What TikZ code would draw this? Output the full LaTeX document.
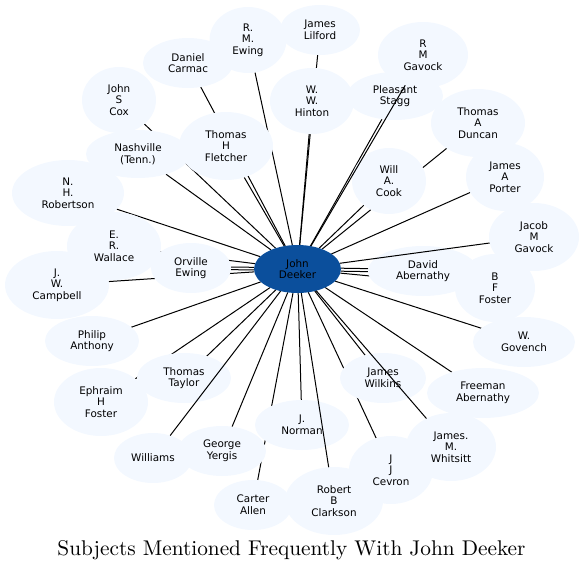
\documentclass[tikz,border=0pt]{standalone}
\usepackage{fontspec}
\newfontfamily\nodefont{DejaVu Sans}
\newfontfamily\capfont{lmroman10-regular}[Extension=.otf]
\usetikzlibrary{shapes.geometric}
\definecolor{nodefill}{RGB}{243,248,255}
\definecolor{centerfill}{RGB}{11,79,156}
\pgfdeclarelayer{edgelayer}
\pgfsetlayers{edgelayer,main}
\tikzset{
  bubble/.style={ellipse, fill=nodefill, inner sep=0pt, outer sep=0pt},
  hub/.style={ellipse, fill=centerfill, inner sep=0pt, outer sep=0pt},
  txt/.style={font=\nodefont\fontsize{10.4}{11.7}\selectfont, align=center, inner sep=0pt},
  link/.style={line width=1pt, black},
}
\begin{document}
\begin{tikzpicture}[x=1pt,y=-1pt]
\useasboundingbox (0,0) rectangle (584,571);
% ellipses
\node[bubble, minimum width=77pt, minimum height=66pt] (ewing) at (248,40) {};
\node[bubble, minimum width=80pt, minimum height=50pt] (lilford) at (320,30) {};
\node[bubble, minimum width=90pt, minimum height=50pt] (carmac) at (188,63) {};
\node[bubble, minimum width=74pt, minimum height=66pt] (cox) at (119,100) {};
\node[bubble, minimum width=84pt, minimum height=66pt] (hinton) at (312,101) {};
\node[bubble, minimum width=90pt, minimum height=66pt] (rmgavock) at (423,55) {};
\node[bubble, minimum width=96pt, minimum height=48pt] (stagg) at (395,96) {};
\node[bubble, minimum width=94pt, minimum height=68pt] (duncan) at (478,123) {};
\node[bubble, minimum width=78pt, minimum height=68pt] (porter) at (505,177) {};
\node[bubble, minimum width=74pt, minimum height=66pt] (cook) at (389,181) {};
\node[bubble, minimum width=104pt, minimum height=48pt] (nashville) at (138,154) {};
\node[bubble, minimum width=94pt, minimum height=68pt] (fletcher) at (226,146) {};
\node[bubble, minimum width=112pt, minimum height=66pt] (robertson) at (68,193) {};
\node[bubble, minimum width=94pt, minimum height=68pt] (wallace) at (114,246) {};
\node[bubble, minimum width=104pt, minimum height=68pt] (campbell) at (57,285) {};
\node[bubble, minimum width=80pt, minimum height=50pt] (orville) at (191,268) {};
\node[bubble, minimum width=94pt, minimum height=50pt] (anthony) at (92,341) {};
\node[bubble, minimum width=94pt, minimum height=68pt] (efoster) at (101,402) {};
\node[bubble, minimum width=94pt, minimum height=50pt] (taylor) at (184,378) {};
\node[bubble, minimum width=78pt, minimum height=50pt] (williams) at (153,458) {};
\node[bubble, minimum width=88pt, minimum height=50pt] (yergis) at (222,451) {};
\node[bubble, minimum width=78pt, minimum height=50pt] (allen) at (253,505) {};
\node[bubble, minimum width=94pt, minimum height=50pt] (norman) at (302,425) {};
\node[bubble, minimum width=98pt, minimum height=68pt] (clarkson) at (334,501) {};
\node[bubble, minimum width=86pt, minimum height=50pt] (wilkins) at (383,378) {};
\node[bubble, minimum width=84pt, minimum height=68pt] (cevron) at (391,470) {};
\node[bubble, minimum width=90pt, minimum height=68pt] (whitsitt) at (451,447) {};
\node[bubble, minimum width=112pt, minimum height=50pt] (freeman) at (483,393) {};
\node[bubble, minimum width=102pt, minimum height=50pt] (govench) at (524,342) {};
\node[bubble, minimum width=80pt, minimum height=68pt] (bffoster) at (495,288) {};
\node[bubble, minimum width=90pt, minimum height=68pt] (jgavock) at (534,237) {};
\node[bubble, minimum width=110pt, minimum height=50pt] (abernathy) at (423,271) {};
\node[hub, minimum width=87pt, minimum height=48pt] (deeker) at (297.5,269) {};
% edges beneath
\begin{pgfonlayer}{edgelayer}
\draw[link] (deeker) -- (ewing);
\draw[link] (deeker) -- (lilford);
\draw[link] (deeker) -- (carmac);
\draw[link] (deeker) -- (cox);
\draw[link] (deeker) -- (hinton);
\draw[link] (deeker) -- (stagg);
\draw[link] (deeker) -- (duncan);
\draw[link] (deeker) -- (porter);
\draw[link] (deeker) -- (cook);
\draw[link] (deeker) -- (nashville);
\draw[link] (deeker) -- (fletcher);
\draw[link] (deeker) -- (robertson);
\draw[link] (deeker) -- (wallace);
\draw[link] (deeker) -- (campbell);
\draw[link, transform canvas={yshift=1.3pt}] (deeker) -- (orville);
\draw[link, transform canvas={yshift=-1.3pt}] (deeker) -- (orville);
\draw[link] (deeker) -- (anthony);
\draw[link] (deeker) -- (efoster);
\draw[link] (deeker) -- (taylor);
\draw[link] (deeker) -- (yergis);
\draw[link] (deeker) -- (allen);
\draw[link] (deeker) -- (norman);
\draw[link] (deeker) -- (wilkins);
\draw[link] (deeker) -- (cevron);
\draw[link] (deeker) -- (freeman);
\draw[link] (deeker) -- (govench);
\draw[link] (deeker) -- (bffoster);
\draw[link, transform canvas={yshift=1.5pt}] (deeker) -- (abernathy);
\draw[link, transform canvas={yshift=-1.5pt}] (deeker) -- (abernathy);
\end{pgfonlayer}
% texts
\node[txt] at (ewing) {R.\\M.\\Ewing};
\node[txt] at (lilford) {James\\Lilford};
\node[txt] at (carmac) {Daniel\\Carmac};
\node[txt] at (cox) {John\\S\\Cox};
\node[txt] at (hinton) {W.\\W.\\Hinton};
\node[txt] at (rmgavock) {R\\M\\Gavock};
\node[txt] at (stagg) {Pleasant\\Stagg};
\node[txt] at (duncan) {Thomas\\A\\Duncan};
\node[txt] at (porter) {James\\A\\Porter};
\node[txt] at (cook) {Will\\A.\\Cook};
\node[txt] at (nashville) {Nashville\\(Tenn.)};
\node[txt] at (fletcher) {Thomas\\H\\Fletcher};
\node[txt] at (robertson) {N.\\H.\\Robertson};
\node[txt] at (wallace) {E.\\R.\\Wallace};
\node[txt] at (campbell) {J.\\W.\\Campbell};
\node[txt] at (orville) {Orville\\Ewing};
\node[txt] at (anthony) {Philip\\Anthony};
\node[txt] at (efoster) {Ephraim\\H\\Foster};
\node[txt] at (taylor) {Thomas\\Taylor};
\node[txt] at (williams) {Williams};
\node[txt] at (yergis) {George\\Yergis};
\node[txt] at (allen) {Carter\\Allen};
\node[txt] at (norman) {J.\\Norman};
\node[txt] at (clarkson) {Robert\\B\\Clarkson};
\node[txt] at (wilkins) {James\\Wilkins};
\node[txt] at (cevron) {J\\J\\Cevron};
\node[txt] at (whitsitt) {James.\\M.\\Whitsitt};
\node[txt] at (freeman) {Freeman\\Abernathy};
\node[txt] at (govench) {W.\\Govench};
\node[txt] at (bffoster) {B\\F\\Foster};
\node[txt] at (jgavock) {Jacob\\M\\Gavock};
\node[txt] at (abernathy) {David\\Abernathy};
\node[txt] at (deeker) {John\\Deeker};
% edges on top
\draw[link] (deeker) -- (rmgavock);
\draw[link] (deeker) -- (williams);
\draw[link] (deeker) -- (clarkson);
\draw[link] (deeker) -- (whitsitt);
\draw[link] (deeker) -- (jgavock);
% caption
\node[anchor=base, inner sep=0pt, font=\capfont\fontsize{21.3}{25}\selectfont] (title) at (291.5,555) {Subjects Mentioned Frequently With John Deeker};
\end{tikzpicture}
\end{document}
